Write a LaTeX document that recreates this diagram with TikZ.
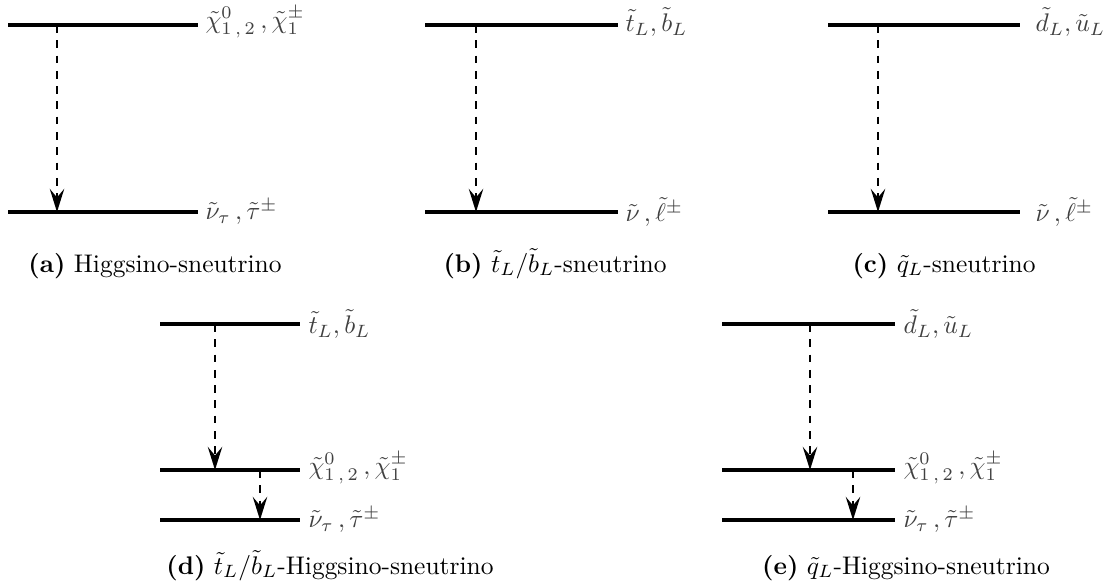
\documentclass[tikz,border=0pt]{standalone}
\usepackage{amsmath,amssymb,tikz}
\usetikzlibrary{arrows,arrows.meta,shapes}
\tikzstyle{level}=[line width=1.4pt]
\tikzstyle{decay}=[-{Stealth[length=3.2mm,width=2mm,inset=1.2mm]}, dashed, line width=0.6pt]
\tikzstyle{lab}=[anchor=west, text=black!75, font=\normalsize, inner sep=0pt]
\tikzstyle{subcap}=[anchor=base, inner sep=0pt]
\newcommand{\chis}{$\tilde{\chi}^{0}_{1\,,\,2}\,,\tilde{\chi}^{\pm}_{1}$}
\newcommand{\staus}{$\tilde{\nu}_{\tau}\,,\tilde{\tau}^{\pm}$}
\newcommand{\slep}{$\tilde{\nu}\,,\tilde{\ell}^{\pm}$}
\newcommand{\thirdsq}{$\tilde{t}_{L},\tilde{b}_{L}$}
\newcommand{\firstsq}{$\tilde{d}_{L},\tilde{u}_{L}$}

\begin{document}
\begin{tikzpicture}[x=0.0138cm,y=-0.0138cm]
\useasboundingbox (0,0) rectangle (1103,588);
% (a)
\draw[level] (8,25)--(198,25); \draw[level] (8,212)--(198,212);
\node[lab] (aT) at (205,22) {\chis};
\node[lab] (aB) at (205,212) {\staus};
\coordinate (a1) at (57,25); \coordinate (a2) at (57,212);
\draw[decay] (a1)--(a2);
\node[subcap] (ca) at (155,272) {\textbf{(a)} Higgsino-sneutrino};
% (b)
\draw[level] (425,25)--(618,25); \draw[level] (425,212)--(618,212);
\node[lab] (bT) at (625,22) {\thirdsq};
\node[lab] (bB) at (625,212) {\slep};
\coordinate (b1) at (476,25); \coordinate (b2) at (476,212);
\draw[decay] (b1)--(b2);
\node[subcap] (cb) at (555,272) {\textbf{(b)} $\tilde{t}_L/\tilde{b}_L$-sneutrino};
% (c)
\draw[level] (828,25)--(1020,25); \draw[level] (828,212)--(1020,212);
\node[lab] (cT) at (1035,22) {\firstsq};
\node[lab] (cB) at (1035,212) {\slep};
\coordinate (c1) at (878,25); \coordinate (c2) at (878,212);
\draw[decay] (c1)--(c2);
\node[subcap] (cc) at (944,272) {\textbf{(c)} $\tilde{q}_L$-sneutrino};
% (d)
\draw[level] (160,324)--(300,324); \draw[level] (160,470)--(300,470); \draw[level] (160,520)--(300,520);
\node[lab] (dT) at (308,324) {\thirdsq};
\node[lab] (dM) at (308,468) {\chis};
\node[lab] (dB) at (308,520) {\staus};
\coordinate (d1) at (215,324); \coordinate (d2) at (215,470);
\coordinate (d3) at (260,470); \coordinate (d4) at (260,520);
\draw[decay] (d1)--(d2); \draw[decay] (d3)--(d4);
\node[subcap] (cd) at (330,574) {\textbf{(d)} $\tilde{t}_L/\tilde{b}_L$-Higgsino-sneutrino};
% (e)
\draw[level] (722,324)--(895,324); \draw[level] (722,470)--(895,470); \draw[level] (722,520)--(895,520);
\node[lab] (eT) at (903,324) {\firstsq};
\node[lab] (eM) at (903,468) {\chis};
\node[lab] (eB) at (903,520) {\staus};
\coordinate (e1) at (810,324); \coordinate (e2) at (810,470);
\coordinate (e3) at (853,470); \coordinate (e4) at (853,520);
\draw[decay] (e1)--(e2); \draw[decay] (e3)--(e4);
\node[subcap] (ce) at (906,574) {\textbf{(e)} $\tilde{q}_L$-Higgsino-sneutrino};
\end{tikzpicture}
\end{document}
